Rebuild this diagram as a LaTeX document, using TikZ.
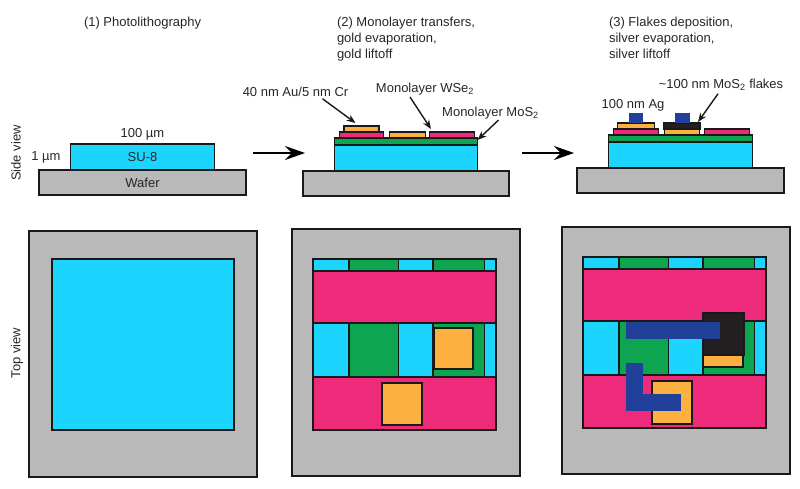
\documentclass[tikz,border=0pt]{standalone}
\usepackage{fontspec}
\setmainfont{Liberation Sans}
\usetikzlibrary{positioning, arrows.meta}
\definecolor{waferc}{HTML}{B9B9B9}
\definecolor{suc}{HTML}{1CD5FF}
\definecolor{wsec}{HTML}{0DA550}
\definecolor{mosc}{HTML}{EE2A7B}
\definecolor{goldc}{HTML}{FBB040}
\definecolor{agc}{HTML}{21409A}
\definecolor{flakec}{HTML}{231F20}

\begin{document}
\begin{tikzpicture}[x=1pt, y=-1pt, font=\fontsize{13}{16}\selectfont, text=black!85,
  slab/.style n args={3}{draw=black!90, line width=1.5pt, fill=#1, minimum width=#2pt, minimum height=#3pt,
    inner sep=0pt, outer sep=0pt},
  silver/.style n args={2}{fill=agc, minimum width=#1pt, minimum height=#2pt, inner sep=0pt, outer sep=0pt},
  tag/.style={inner sep=0pt, outer sep=0pt},
  caption/.style={tag, align=left, anchor=north west},
  leader/.style={-{Stealth[length=9pt, width=7pt]}, line width=1.4pt, black!90},
  process/.style={-{Stealth[length=20pt, width=14pt, inset=7pt]}, line width=2pt, black}]
  \useasboundingbox (0,0) rectangle (800,489);

  % captions
  \node[caption] (capa) at (84,17.5) {(1) Photolithography};
  \node[caption] (capb) at (337,17.5) {(2) Monolayer transfers,\\ gold evaporation,\\ gold liftoff};
  \node[caption] (capc) at (609,17.5) {(3) Flakes deposition,\\ silver evaporation,\\ silver liftoff};
  \node[tag, rotate=90] (sideview) at (16,153) {Side view};
  \node[tag, rotate=90] (topview) at (17,353) {Top view};

  % side view 1
  \node[slab={waferc}{207}{25}] (wafera) at (142.5,182.5) {Wafer};
  \node[slab={suc}{144}{26}, above=0pt of wafera] (sua) {SU-8};
  \node[tag, above=4pt of sua] (widtha) {100 µm};
  \node[tag, left=10pt of sua] (heighta) {1 µm};

  % side view 2
  \node[slab={waferc}{206}{25}] (waferb) at (406,183.5) {};
  \node[slab={suc}{143}{26}, above=0pt of waferb] (sub) {};
  \node[slab={wsec}{143}{7}, above=0pt of sub] (wseb) {};
  \node[slab={mosc}{44}{6}, anchor=south west, xshift=5pt] (mosb) at (wseb.north west) {};
  \node[slab={goldc}{35}{6}, above=0pt of mosb] (golda) {};
  \node[slab={goldc}{36}{6}, anchor=south west, xshift=55pt] (goldb) at (wseb.north west) {};
  \node[slab={mosc}{45}{6}, anchor=south east, xshift=-3pt] (mosc) at (wseb.north east) {};
  \node[tag] (aulabel) at (295.5,92) {40 nm Au/5 nm Cr};
  \node[tag] (wselabel) at (425,89) {Monolayer WSe\textsubscript{2}};
  \node[tag] (moslabel) at (490.5,113) {Monolayer MoS\textsubscript{2}};
  \draw[leader] ([xshift=27pt, yshift=-2pt]aulabel.south) -- ([xshift=-6pt, yshift=3pt]golda.north);
  \draw[leader] ([xshift=-15pt, yshift=-2pt]wselabel.south) -- ([xshift=-21pt, yshift=3pt]mosc.north);
  \draw[leader] ([xshift=8pt, yshift=-1pt]moslabel.south) -- ([yshift=-2pt]wseb.north east);

  % side view 3
  \node[slab={waferc}{207}{25}] (waferc) at (680.5,180.5) {};
  \node[slab={suc}{144}{26}, above=0pt of waferc] (suc) {};
  \node[slab={wsec}{144}{7}, above=0pt of suc] (wsec) {};
  \node[slab={mosc}{45}{6}, anchor=south west, xshift=5pt] (mosd) at (wsec.north west) {};
  \node[slab={goldc}{37}{6}, above=0pt of mosd] (goldd) {};
  \node[silver={14}{10}, above=0pt of goldd] (aga) {};
  \node[slab={goldc}{35}{6}, anchor=south west, xshift=56pt] (golde) at (wsec.north west) {};
  \node[slab={flakec}{36}{6}, above=0pt of golde] (flakea) {};
  \node[silver={15}{10}, above=0pt of flakea] (agb) {};
  \node[slab={mosc}{45}{6}, anchor=south east, xshift=-3pt] (mose) at (wsec.north east) {};
  \node[tag] (aglabel) at (633,105) {100 nm Ag};
  \node[tag] (flakelabel) at (721,85) {\textasciitilde 100 nm MoS\textsubscript{2} flakes};
  \draw[leader] ([xshift=-3pt, yshift=-3pt]flakelabel.south) -- ([xshift=16pt, yshift=1pt]flakea.north);

  % process arrows
  \coordinate (steponefrom) at (253,153);
  \coordinate (steponeto) at (305,153);
  \coordinate (steptwofrom) at (522,153);
  \coordinate (steptwoto) at (574,153);
  \draw[process] (steponefrom) -- (steponeto);
  \draw[process] (steptwofrom) -- (steptwoto);

  % top view 1
  \node[slab={waferc}{228}{246}, anchor=north west] (framea) at (29,231) {};
  \node[slab={suc}{182}{171}, anchor=north west] (squarea) at (52,259) {};

  % top views 2 and 3 share one grid
  \foreach \p/\x/\y in {b/292/229, c/562/227} {
    \node[slab={waferc}{228}{247}, anchor=north west] (frame\p) at (\x,\y) {};
    \foreach \i/\dx/\w/\col in {1/21/36/suc, 2/57/49.5/wsec, 3/106.5/34.5/suc, 4/141/51.5/wsec, 5/192.5/11.5/suc} {
      \node[slab={\col}{\w}{12}, anchor=north west] (strip\p\i) at (\x+\dx,\y+30) {};
      \node[slab={\col}{\w}{54}, anchor=north west] (band\p\i) at (\x+\dx,\y+94) {};
    }
    \node[slab={mosc}{183}{52}, anchor=north west] (upper\p) at (\x+21,\y+42) {};
    \node[slab={mosc}{183}{53}, anchor=north west] (lower\p) at (\x+21,\y+148) {};
  }
  \node[slab={goldc}{39}{41}, anchor=north west] (goldf) at (434,328) {};
  \node[slab={goldc}{40}{42}, anchor=north west] (goldg) at (382,383) {};
  \node[slab={goldc}{40}{12}, anchor=north west] (goldh) at (703,355) {};
  \node[slab={flakec}{41}{42}, anchor=north west] (flakeb) at (703,313) {};
  \node[slab={goldc}{40}{43}, anchor=north west] (goldi) at (652,381) {};
  \node[silver={94}{17}, anchor=north west] (agc) at (626,322) {};
  \node[silver={17}{48}, anchor=north west] (agd) at (626,363) {};
  \node[silver={55}{17}, anchor=north west] (age) at (626,394) {};
\end{tikzpicture}
\end{document}
